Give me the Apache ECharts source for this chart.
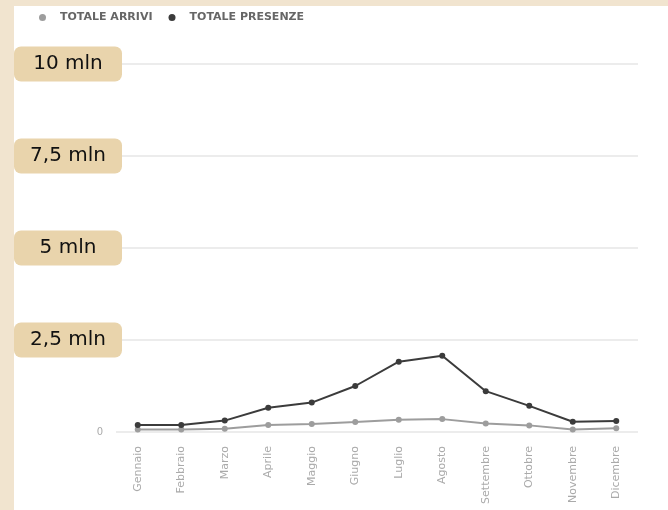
<!DOCTYPE html>
<html>
<head>
<meta charset="utf-8">
<script src="https://cdn.jsdelivr.net/npm/echarts@6/dist/echarts.min.js"></script>
<style>
  html, body { margin: 0; padding: 0; background: #f1e4cf; }
  .chart-wrap {
    position: absolute;
    left: 14px;
    top: 6px;
    width: 654px;
    height: 504px;
    background: #fff;
  }
</style>
</head>
<body>
<div class="chart-wrap" id="main"></div>
<script>
  // mesi e totali (arrivi / presenze)
  const mesi = ['Gennaio', 'Febbraio', 'Marzo', 'Aprile', 'Maggio', 'Giugno',
    'Luglio', 'Agosto', 'Settembre', 'Ottobre', 'Novembre', 'Dicembre'];
  const arrivi = [70000, 70000, 90000, 190000, 220000, 270000,
    330000, 350000, 230000, 180000, 70000, 100000];
  const presenze = [190000, 190000, 310000, 660000, 800000, 1250000,
    1910000, 2070000, 1110000, 710000, 280000, 300000];
  const etichetteY = { 0: '0', 2500000: '2,5 mln', 5000000: '5 mln', 7500000: '7,5 mln', 10000000: '10 mln' };

  let myChart = echarts.init(document.getElementById('main'));

  let options = {
    backgroundColor: '#fff',
    animation: false,
    legend: {
      left: 20,
      top: 1,
      icon: 'circle',
      itemWidth: 7,
      itemHeight: 7,
      itemGap: 16,
      data: ['TOTALE ARRIVI', 'TOTALE PRESENZE'],
      textStyle: {
        color: '#666',
        fontSize: 11,
        fontWeight: 'bold',
        fontFamily: 'DejaVu Sans',
        padding: [0, 0, 0, 9]
      }
    },
    grid: {
      left: 102,
      right: 30,
      top: 58,
      bottom: 78,
      outerBoundsMode: 'none'
    },
    xAxis: {
      type: 'category',
      boundaryGap: true,
      data: mesi,
      axisLine: { show: false },
      axisTick: { show: false },
      axisLabel: {
        rotate: 90,
        margin: 14,
        fontSize: 11,
        color: '#aaa',
        fontFamily: 'DejaVu Sans'
      }
    },
    yAxis: {
      type: 'value',
      min: 0,
      max: 10000000,
      interval: 2500000,
      axisLine: { show: false },
      axisTick: { show: false },
      splitLine: {
        lineStyle: { color: '#ececec', width: 2 }
      },
      axisLabel: {
        margin: -6,
        formatter: function (v) {
          if (v === 0) return '{zero|0}';
          return '{box|' + etichetteY[v] + '}';
        },
        rich: {
          box: {
            backgroundColor: '#e9d4ac',
            borderRadius: 7,
            width: 108,
            height: 35,
            lineHeight: 35,
            align: 'center',
            fontSize: 20,
            fontFamily: 'DejaVu Sans',
            color: '#111'
          },
          zero: {
            color: '#aaa',
            fontSize: 10,
            fontFamily: 'DejaVu Sans',
            padding: [0, 19, 0, 0]
          }
        }
      }
    },
    series: [
      {
        name: 'TOTALE ARRIVI',
        type: 'line',
        symbol: 'circle',
        symbolSize: 6,
        showAllSymbol: true,
        itemStyle: { color: '#9d9d9d' },
        lineStyle: { color: '#9d9d9d', width: 2 },
        data: arrivi
      },
      {
        name: 'TOTALE PRESENZE',
        type: 'line',
        symbol: 'circle',
        symbolSize: 6,
        showAllSymbol: true,
        itemStyle: { color: '#3b3b3b' },
        lineStyle: { color: '#3b3b3b', width: 2 },
        data: presenze
      }
    ]
  };

  myChart.setOption(options);
</script>
</body>
</html>
